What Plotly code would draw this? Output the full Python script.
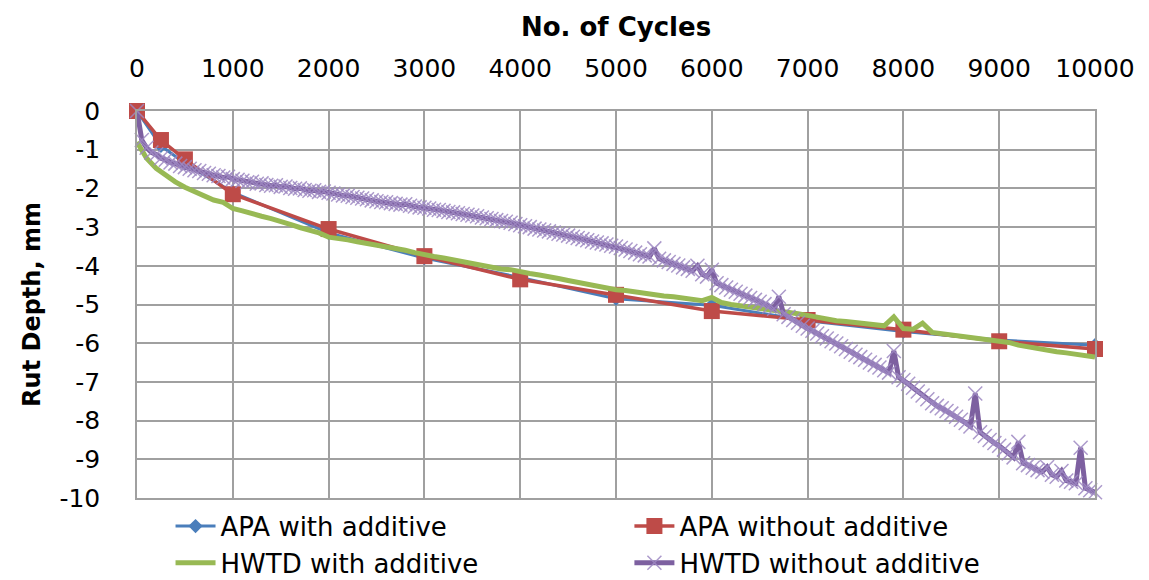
import plotly.graph_objects as go

# ---- data ----
apa_cycles = [0, 250, 500, 1000, 2000, 3000, 4000, 5000, 6000, 7000, 8000, 9000, 10000]
apa_with = [0, -0.90, -1.35, -2.10, -3.15, -3.80, -4.30, -4.85, -5.02, -5.42, -5.70, -5.92, -6.05]
apa_without = [0, -0.75, -1.25, -2.15, -3.05, -3.75, -4.35, -4.75, -5.17, -5.40, -5.65, -5.95, -6.15]

hwtd_with_cycles = list(range(0, 10001, 100))
hwtd_with = [
    -0.80, -1.22, -1.48, -1.66, -1.83, -1.97, -2.07, -2.18, -2.30, -2.36,
    -2.52, -2.58, -2.66, -2.72, -2.78, -2.84, -2.93, -3.01, -3.08, -3.15,
    -3.26, -3.28, -3.33, -3.38, -3.42, -3.47, -3.50, -3.56, -3.60, -3.66,
    -3.72, -3.76, -3.80, -3.85, -3.88, -3.93, -3.98, -4.03, -4.08, -4.10,
    -4.16, -4.20, -4.24, -4.30, -4.33, -4.38, -4.43, -4.47, -4.52, -4.58,
    -4.62, -4.64, -4.68, -4.70, -4.74, -4.78, -4.80, -4.84, -4.86, -4.90,
    -4.82, -4.95, -5.00, -5.03, -5.07, -5.10, -5.14, -5.17, -5.20, -5.24,
    -5.28, -5.33, -5.36, -5.42, -5.44, -5.46, -5.50, -5.52, -5.55, -5.32,
    -5.62, -5.64, -5.48, -5.72, -5.75, -5.78, -5.82, -5.85, -5.88, -5.92,
    -5.95, -5.98, -6.05, -6.10, -6.15, -6.17, -6.22, -6.25, -6.28, -6.32,
    -6.36,
]

hwtd_without_cycles = list(range(0, 10001, 50))
hwtd_without = [
    0.00, -0.75, -0.95, -1.07, -1.12, -1.22, -1.26, -1.33, -1.36, -1.42,
    -1.45, -1.49, -1.53, -1.55, -1.60, -1.62, -1.66, -1.68, -1.72, -1.70,
    -1.76, -1.78, -1.80, -1.84, -1.83, -1.88, -1.87, -1.91, -1.93, -1.92,
    -1.96, -1.95, -1.99, -2.01, -2.00, -2.04, -2.06, -2.05, -2.09, -2.08,
    -2.11, -2.13, -2.16, -2.18, -2.19, -2.22, -2.24, -2.26, -2.28, -2.31,
    -2.33, -2.35, -2.36, -2.38, -2.40, -2.42, -2.41, -2.45, -2.47, -2.49,
    -2.50, -2.52, -2.55, -2.56, -2.58, -2.61, -2.62, -2.64, -2.66, -2.68,
    -2.70, -2.72, -2.75, -2.77, -2.79, -2.82, -2.84, -2.86, -2.89, -2.92,
    -2.95, -2.98, -3.00, -3.04, -3.06, -3.09, -3.11, -3.14, -3.17, -3.19,
    -3.22, -3.25, -3.28, -3.31, -3.34, -3.37, -3.40, -3.42, -3.45, -3.48,
    -3.50, -3.54, -3.58, -3.62, -3.66, -3.70, -3.73, -3.76, -3.55, -3.82,
    -3.86, -3.90, -3.95, -3.99, -4.04, -4.08, -4.13, -4.00, -4.22, -4.28,
    -4.10, -4.45, -4.50, -4.56, -4.62, -4.67, -4.72, -4.77, -4.83, -4.88,
    -4.93, -4.99, -5.05, -5.11, -4.80, -5.25, -5.32, -5.40, -5.47, -5.55,
    -5.62, -5.68, -5.75, -5.82, -5.88, -5.95, -6.01, -6.08, -6.15, -6.22,
    -6.30, -6.36, -6.43, -6.50, -6.56, -6.63, -6.70, -6.76, -6.20, -6.88,
    -6.95, -7.05, -7.15, -7.25, -7.35, -7.45, -7.55, -7.62, -7.68, -7.75,
    -7.82, -7.90, -7.98, -8.06, -8.15, -7.30, -8.30, -8.40, -8.50, -8.58,
    -8.65, -8.75, -8.85, -8.95, -8.55, -9.10, -9.15, -9.22, -9.28, -9.32,
    -9.20, -9.40, -9.45, -9.30, -9.55, -9.58, -9.62, -8.70, -9.75, -9.80,
    -9.85,
]

x_ticks = list(range(0, 10001, 1000))
y_ticks = list(range(0, -11, -1))

FONT = "DejaVu Sans"

fig = go.Figure()
fig.add_trace(go.Scatter(
    x=apa_cycles, y=apa_with, name="APA with additive", mode="lines+markers",
    line=dict(color="#4A7EBB", width=3),
    marker=dict(symbol="diamond", size=11, color="#4A7EBB"),
    cliponaxis=False, legend="legend"))
fig.add_trace(go.Scatter(
    x=apa_cycles, y=apa_without, name="APA without additive", mode="lines+markers",
    line=dict(color="#BE4B48", width=3.5),
    marker=dict(symbol="square", size=16, color="#BE4B48"),
    cliponaxis=False, legend="legend2"))
fig.add_trace(go.Scatter(
    x=hwtd_with_cycles, y=hwtd_with, name="HWTD with additive", mode="lines",
    line=dict(color="#98B954", width=5),
    cliponaxis=False, legend="legend"))
fig.add_trace(go.Scatter(
    x=hwtd_without_cycles, y=hwtd_without, name="HWTD without additive", mode="lines+markers",
    line=dict(color="#7D60A0", width=5),
    marker=dict(symbol="x-thin", size=14, color="#9E88C2",
                line=dict(color="rgba(158,136,194,0.85)", width=1.5)),
    cliponaxis=False, legend="legend2"))

legend_common = dict(orientation="v", yanchor="top", xanchor="left",
                     font=dict(family=FONT, size=26, color="black"),
                     tracegroupgap=0, itemwidth=40, bgcolor="rgba(0,0,0,0)")

fig.update_layout(
    width=1149, height=580,
    margin=dict(l=137, r=54, t=111, b=82, autoexpand=False),
    paper_bgcolor="white", plot_bgcolor="white",
    font=dict(family=FONT, size=25, color="black"),
    showlegend=True,
    legend=dict(x=0.035, y=-0.012, **legend_common),
    legend2=dict(x=0.514, y=-0.012, **legend_common),
)
fig.update_xaxes(
    side="top", range=[0, 10000], tickvals=x_ticks, ticktext=[str(v) for v in x_ticks],
    showgrid=True, gridcolor="#A0A0A0", gridwidth=1.5,
    showline=True, linecolor="#A0A0A0", linewidth=1.5, mirror=True,
    ticks="", ticklabelstandoff=22, zeroline=False,
    title=dict(text="<b>No. of Cycles</b>", font=dict(family=FONT, size=26), standoff=10),
    tickfont=dict(family=FONT, size=25),
)
fig.update_yaxes(
    range=[-10, 0], tickvals=y_ticks, ticktext=[str(v) for v in y_ticks],
    showgrid=True, gridcolor="#A0A0A0", gridwidth=1.5,
    showline=True, linecolor="#A0A0A0", linewidth=1.5, mirror=True,
    ticks="", ticklabelstandoff=30, zeroline=False,
    title=dict(text="<b>Rut Depth, mm</b>", font=dict(family=FONT, size=24), standoff=12),
    tickfont=dict(family=FONT, size=25),
)

fig.write_html("out.html")
